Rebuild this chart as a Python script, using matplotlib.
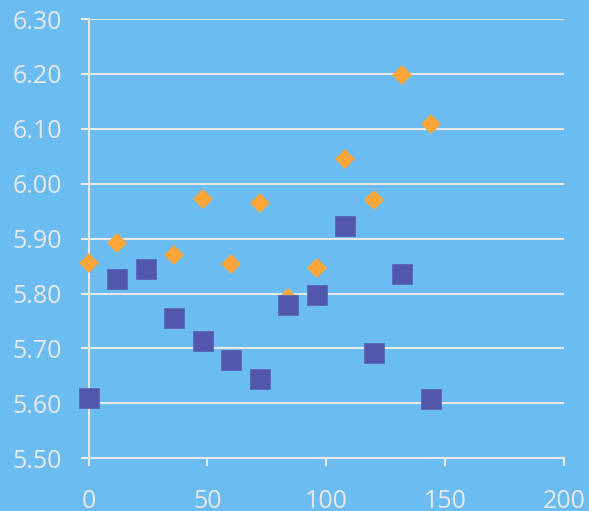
import matplotlib
matplotlib.use("Agg")
import matplotlib.pyplot as plt
from matplotlib.ticker import MultipleLocator, FormatStrFormatter

# Sample positions shared by both series
x_vals = [0, 12, 24, 36, 48, 60, 72, 84, 96, 108, 120, 132, 144]

# Orange diamond series
series_a = [5.855, 5.892, 5.845, 5.870, 5.972, 5.854, 5.965, 5.792, 5.846,
            6.045, 5.970, 6.198, 6.109]

# Purple square series
series_b = [5.609, 5.827, 5.844, 5.755, 5.713, 5.679, 5.644, 5.780, 5.798,
            5.923, 5.691, 5.835, 5.608]

x_ticks = [0, 50, 100, 150, 200]
y_ticks = [5.50, 5.60, 5.70, 5.80, 5.90, 6.00, 6.10, 6.20, 6.30]

BG = "#6bbcf1"
FG = "#e8e8e8"

plt.rcParams["font.family"] = ["Open Sans", "DejaVu Sans"]

fig = plt.figure(figsize=(5.89, 5.11), dpi=100, facecolor=BG)
ax = fig.add_axes([0.1504, 0.1031, 0.8072, 0.8597], facecolor=BG)

ax.plot(x_vals, series_a, linestyle="none", marker="D", markersize=10.2,
        color="#ffa63a", markeredgewidth=0, zorder=3, clip_on=False)
ax.plot(x_vals, series_b, linestyle="none", marker="s", markersize=14.8,
        color="#5357ab", markeredgecolor="#5a66b8", markeredgewidth=0.6,
        zorder=4, clip_on=False)

ax.set_xlim(0, 200)
ax.set_ylim(5.50, 6.30)
ax.set_xticks(x_ticks)
ax.set_yticks(y_ticks)
ax.yaxis.set_major_formatter(FormatStrFormatter("%.2f"))

ax.grid(axis="y", color=FG, linewidth=1.5, zorder=1)
ax.set_axisbelow(True)

for side in ("top", "right"):
    ax.spines[side].set_visible(False)
for side in ("left", "bottom"):
    ax.spines[side].set_color(FG)
    ax.spines[side].set_linewidth(1.5)

ax.tick_params(axis="both", colors=FG, labelsize=18, width=1.5, length=6,
               direction="out")
ax.tick_params(axis="y", pad=13)
ax.tick_params(axis="x", pad=16)

fig.savefig("out.png", dpi=100, facecolor=BG)
